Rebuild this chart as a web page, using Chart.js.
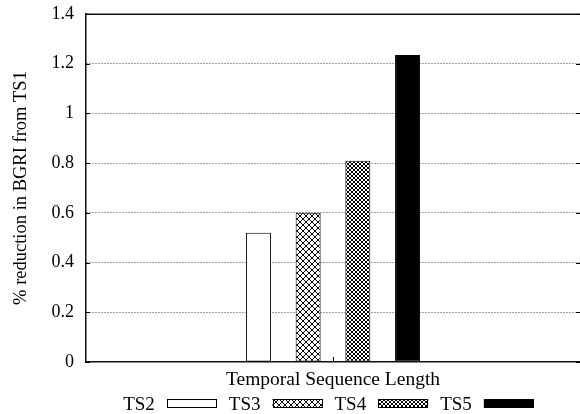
<!DOCTYPE html>
<html>
<head>
<meta charset="utf-8">
<script src="https://cdn.jsdelivr.net/npm/chart.js@4/dist/chart.umd.min.js"></script>
<style>
html,body{margin:0;padding:0;background:#fff;}
#wrap{width:580px;height:414px;}
</style>
</head>
<body>
<div id="wrap"><canvas id="c" width="580" height="414"></canvas></div>
<script>
// ---- data ----
const categories = [''];
const seriesLabels = ['TS2', 'TS3', 'TS4', 'TS5'];
const ts2Values = [0.52];
const ts3Values = [0.60];
const ts4Values = [0.81];
const ts5Values = [1.235];
const yTickLabels = ['0', '0.2', '0.4', '0.6', '0.8', '1', '1.2', '1.4'];
const xTitle = 'Temporal Sequence Length';
const yTitle = '% reduction in BGRI from TS1';

const FAMILY = '"Liberation Serif", "Times New Roman", serif';

function makePattern(size) {
  const cv = document.createElement('canvas');
  cv.width = size; cv.height = size;
  const g = cv.getContext('2d');
  g.fillStyle = '#fff';
  g.fillRect(0, 0, size, size);
  g.fillStyle = '#000';
  for (let i = 0; i < size; i++) {
    g.fillRect(i, i, 1, 1);
    g.fillRect(size - 1 - i, i, 1, 1);
  }
  return document.getElementById('c').getContext('2d').createPattern(cv, 'repeat');
}

const fills = ['#ffffff', makePattern(6), makePattern(4), '#000000'];
const seriesValues = [ts2Values, ts3Values, ts4Values, ts5Values];

const datasets = seriesLabels.map((lab, i) => ({
  label: lab,
  data: seriesValues[i],
  backgroundColor: fills[i],
  borderColor: '#000',
  borderWidth: 1,
  borderSkipped: false,
  categoryPercentage: 0.4025,
  barPercentage: 0.503
}));

const framePlugin = {
  id: 'frame',
  afterDatasetsDraw(chart) {
    const {ctx, chartArea} = chart;
    const ys = chart.scales.y, xs = chart.scales.x;
    ctx.save();
    ctx.strokeStyle = '#111';
    ctx.lineWidth = 1.5;
    ctx.beginPath();
    ctx.moveTo(chartArea.left, chartArea.top + 0.25);
    ctx.lineTo(chartArea.right, chartArea.top + 0.25);
    ctx.stroke();
    // inward tick marks (gnuplot style)
    ctx.lineWidth = 1;
    ctx.strokeStyle = '#000';
    ys.ticks.forEach(t => {
      const y = Math.round(ys.getPixelForValue(t.value)) + 0.5;
      ctx.beginPath();
      ctx.moveTo(chartArea.left, y); ctx.lineTo(chartArea.left + 4, y);
      ctx.moveTo(chartArea.right - 4, y); ctx.lineTo(chartArea.right, y);
      ctx.stroke();
    });
    categories.forEach((c, i) => {
      const x = Math.round(xs.getPixelForValue(i)) + 0.5;
      ctx.beginPath();
      ctx.moveTo(x, chartArea.bottom); ctx.lineTo(x, chartArea.bottom - 5);
      ctx.stroke();
    });
    ctx.restore();
  }
};

const legendPlugin = {
  id: 'gnuLegend',
  afterDraw(chart) {
    const ctx = chart.ctx;
    ctx.save();
    ctx.font = '19px ' + FAMILY;
    ctx.fillStyle = '#000';
    ctx.textBaseline = 'alphabetic';
    const items = chart.data.datasets.map(d => ({label: d.label, fill: d.backgroundColor, w: ctx.measureText(d.label).width}));
    const boxW = 50, boxH = 9, gap = 12;
    let total = 0;
    items.forEach((it, i) => { total += it.w + gap + boxW + (i < items.length - 1 ? gap : 0); });
    let x = 328.5 - total / 2;
    const baseY = 410, boxY = 399;
    items.forEach(it => {
      ctx.fillStyle = '#000';
      ctx.fillText(it.label, x, baseY);
      x += it.w + gap;
      ctx.fillStyle = it.fill;
      ctx.fillRect(x, boxY, boxW, boxH);
      ctx.strokeStyle = '#000';
      ctx.lineWidth = 1;
      ctx.strokeRect(Math.round(x) + 0.5, boxY + 0.5, boxW - 1, boxH - 1);
      x += boxW + gap;
    });
    ctx.restore();
  }
};

new Chart(document.getElementById('c'), {
  type: 'bar',
  data: { labels: categories, datasets },
  options: {
    responsive: false,
    animation: false,
    devicePixelRatio: 1,
    layout: { padding: { top: 14, right: 0, bottom: 22, left: 0 } },
    plugins: { legend: { display: false }, tooltip: { enabled: false } },
    scales: {
      x: {
        grid: { display: false, drawTicks: false },
        border: { display: true, color: '#111', width: 1.5 },
        ticks: { display: false },
        title: { display: true, text: xTitle, color: '#000', font: { family: FAMILY, size: 19.5 }, padding: { top: 0, bottom: 0 } },
        afterFit(s) { s.height = 30; s.paddingLeft = 0; s.paddingRight = 0; }
      },
      y: {
        min: 0, max: 1.4,
        ticks: { stepSize: 0.2, padding: 12, color: '#000', font: { family: FAMILY, size: 18 },
          callback: (v, i) => yTickLabels[i] },
        grid: {
          drawTicks: false, lineWidth: 1,
          color: c => (c.tick && (Math.abs(c.tick.value) < 1e-9 || Math.abs(c.tick.value - 1.4) < 1e-9)) ? 'rgba(0,0,0,0)' : '#444'
        },
        border: { display: true, color: '#111', width: 1.5, dash: [1, 2] },
        title: { display: true, text: yTitle, color: '#000', font: { family: FAMILY, size: 18.5 }, padding: { top: 10, bottom: 0 } },
        afterFit(s) { s.width = 86; s.paddingTop = 0; s.paddingBottom = 0; }
      }
    }
  },
  plugins: [framePlugin, legendPlugin]
});
</script>
</body>
</html>
